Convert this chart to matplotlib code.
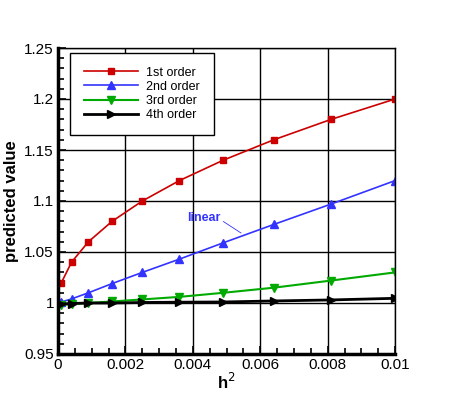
import matplotlib.pyplot as plt
import numpy as np
from matplotlib.ticker import MultipleLocator

plt.rcParams['font.family'] = ['Liberation Sans', 'DejaVu Sans']

# h^2 values
h2 = [0.0001, 0.0004, 0.0009, 0.0016, 0.0025, 0.0036, 0.0049, 0.0064, 0.0081, 0.01]

first = [1.02, 1.04, 1.06, 1.08, 1.10, 1.12, 1.14, 1.16, 1.18, 1.20]
second = [1.001, 1.004, 1.010, 1.019, 1.030, 1.043, 1.059, 1.077, 1.097, 1.120]
third = [0.998, 0.999, 1.000, 1.0015, 1.0035, 1.006, 1.010, 1.015, 1.022, 1.030]
fourth = [0.999, 0.9995, 1.000, 1.000, 1.0005, 1.0008, 1.001, 1.002, 1.003, 1.0046]

labels = ['1st order', '2nd order', '3rd order', '4th order']

fig = plt.figure(figsize=(4.5, 4), dpi=100)
ax = fig.add_axes([0.129, 0.115, 0.749, 0.765])

ax.plot(h2, first, color='#cc0000', marker='s', markersize=5, linewidth=1.2, label=labels[0])
ax.plot(h2, second, color='#3333ff', marker='^', markersize=6, linewidth=1.2, label=labels[1])
ax.plot(h2, third, color='#00aa00', marker='v', markersize=6, linewidth=1.5, label=labels[2])
ax.plot(h2, fourth, color='black', marker='>', markersize=6, linewidth=2, label=labels[3])

# annotation
ax.annotate('linear', xy=(0.00543, 1.0686), xytext=(0.00383, 1.083),
            color='#3333ff', fontsize=9, fontweight='bold', va='center',
            arrowprops=dict(arrowstyle='-', color='#3333ff', lw=0.6,
                            shrinkA=0, shrinkB=0, relpos=(1.05, 0.3)))

ax.set_xlim(0, 0.01)
ax.set_ylim(0.95, 1.25)
ax.xaxis.set_minor_locator(MultipleLocator(0.0005))
ax.yaxis.set_minor_locator(MultipleLocator(0.01))
ax.set_xticks([0, 0.002, 0.004, 0.006, 0.008, 0.01])
ax.set_xticklabels(['0', '0.002', '0.004', '0.006', '0.008', '0.01'])
ax.set_yticks([0.95, 1.0, 1.05, 1.1, 1.15, 1.2, 1.25])
ax.set_yticklabels(['0.95', '1', '1.05', '1.1', '1.15', '1.2', '1.25'])

ax.grid(True, which='major', color='black', linewidth=1)
ax.tick_params(which='both', direction='in', width=1.2, labelsize=11, pad=3)
ax.tick_params(which='major', length=6)
ax.tick_params(which='minor', length=4)

ax.spines['left'].set_linewidth(2.5)
ax.spines['bottom'].set_linewidth(2.5)
ax.spines['top'].set_linewidth(1)
ax.spines['right'].set_linewidth(1)

ax.set_xlabel('h$^2$', fontsize=12, fontweight='bold', labelpad=0)
ax.set_ylabel('predicted value', fontsize=12, fontweight='bold', labelpad=4)

leg = ax.legend(loc='upper left', bbox_to_anchor=(0.036, 0.984), fontsize=9,
                fancybox=False, framealpha=1, edgecolor='black', borderaxespad=0,
                handlelength=4.3, handletextpad=0.7, borderpad=1.1, labelspacing=0.17)
leg.get_frame().set_linewidth(1)

fig.savefig('out.png', dpi=100)
